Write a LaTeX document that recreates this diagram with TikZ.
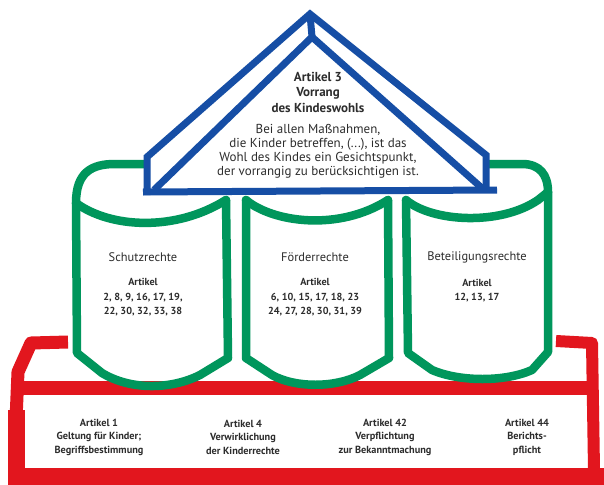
\documentclass[tikz,border=0pt]{standalone}
\usepackage{fontspec}
\setmainfont{PT Sans}
\begin{document}
\begin{tikzpicture}[x=1pt,y=-1pt,
  green/.style={draw=sgreen,line width=8.5pt,line join=round,line cap=round},
  blue/.style={draw=sblue,line width=7pt,line join=miter},
  red/.style={draw=sred,line join=round},
  txt/.style={text=tgray,align=center,inner sep=0pt},
  head/.style={txt,font=\fontsize{12.4}{14}\selectfont},
  sub/.style={txt,font=\bfseries\fontsize{10.2}{14.5}\selectfont},
  roofhead/.style={txt,font=\bfseries\fontsize{13}{15.5}\selectfont},
  roofbody/.style={txt,font=\fontsize{13}{14}\selectfont},
  basetxt/.style={txt,font=\bfseries\fontsize{10.3}{13.5}\selectfont}
]
\definecolor{sgreen}{RGB}{0,150,92}
\definecolor{sblue}{RGB}{22,78,165}
\definecolor{sred}{RGB}{226,22,30}
\definecolor{tgray}{RGB}{45,45,45}
\useasboundingbox[fill=white] (0,0) rectangle (604,484);

% ---- red base ----
\draw[red,line width=13pt] (68,342) -- (31,343) -- (18,372) -- (16,420);
\draw[red,line width=17pt] (16,410) -- (16,484);
\draw[red,line width=17pt] (8,476) -- (604,476);
\draw[red,line width=14pt] (12,388) -- (597,388);
\draw[red,line width=12pt] (556,341) -- (592,343) -- (594,470);

% ---- green scrolls ----
% left
\draw[green] (76,203) .. controls (76,172) and (92,164) .. (115,164) -- (160,164);
\draw[green] (76,203) .. controls (110,228) and (175,232) .. (226,200);
\draw[green] (76,203) -- (77,353) -- (102,373) .. controls (130,390) and (170,390) .. (200,375) -- (228,358) -- (226,200);
% middle
\draw[green] (246,200) .. controls (272,222) and (338,232) .. (388,200);
\draw[green] (246,200) -- (246,358) -- (272,375) .. controls (295,388) and (335,388) .. (360,375) -- (389,358) -- (388,200);
% right
\draw[green] (470,164) -- (522,164) .. controls (540,164) and (548,175) .. (548,192);
\draw[green] (406,200) .. controls (432,222) and (500,226) .. (538,200) -- (548,192);
\draw[green] (406,200) -- (408,353) -- (432,370) .. controls (460,382) and (505,382) .. (532,370) -- (548,352) -- (548,192);

% ---- blue roof ----
\fill[white] (147,192) -- (147,157) -- (310,14) -- (486,155) -- (486,190) -- cycle;
\draw[blue] (147,195) -- (147,157) -- (310,14) -- (486,155) -- (486,190);
\draw[blue] (143,192) -- (497,190);
\draw[blue] (154,190) -- (312,37) -- (483,189);
\draw[blue] (310,14) -- (312,37);

% ---- texts ----
\node[roofhead] (t3) at (318,92) {Artikel 3\\Vorrang\\des Kindeswohls};
\node[roofbody] (t3b) at (318,151) {Bei allen Maßnahmen,\\die Kinder betreffen, (...), ist das\\Wohl des Kindes ein Gesichtspunkt,\\der vorrangig zu berücksichtigen ist.};

\node[head] (s1) at (143,257) {Schutzrechte};
\node[sub] (s1a) at (143,297.5) {Artikel\\2, 8, 9, 16, 17, 19,\\22, 30, 32, 33, 38};
\node[head] (s2) at (315,257) {Förderrechte};
\node[sub] (s2a) at (315,297.5) {Artikel\\6, 10, 15, 17, 18, 23\\24, 27, 28, 30, 31, 39};
\node[head] (s3) at (477,257) {Beteiligungsrechte};
\node[sub] (s3a) at (477,290.5) {Artikel\\12, 13, 17};

\node[basetxt] (b1) at (99,437) {Artikel 1\\Geltung für Kinder;\\Begriffsbestimmung};
\node[basetxt] (b2) at (243,437) {Artikel 4\\Verwirklichung\\der Kinderrechte};
\node[basetxt] (b3) at (385,437) {Artikel 42\\Verpflichtung\\zur Bekanntmachung};
\node[basetxt] (b4) at (527,437) {Artikel 44\\Berichts-\\pflicht};
\end{tikzpicture}
\end{document}
